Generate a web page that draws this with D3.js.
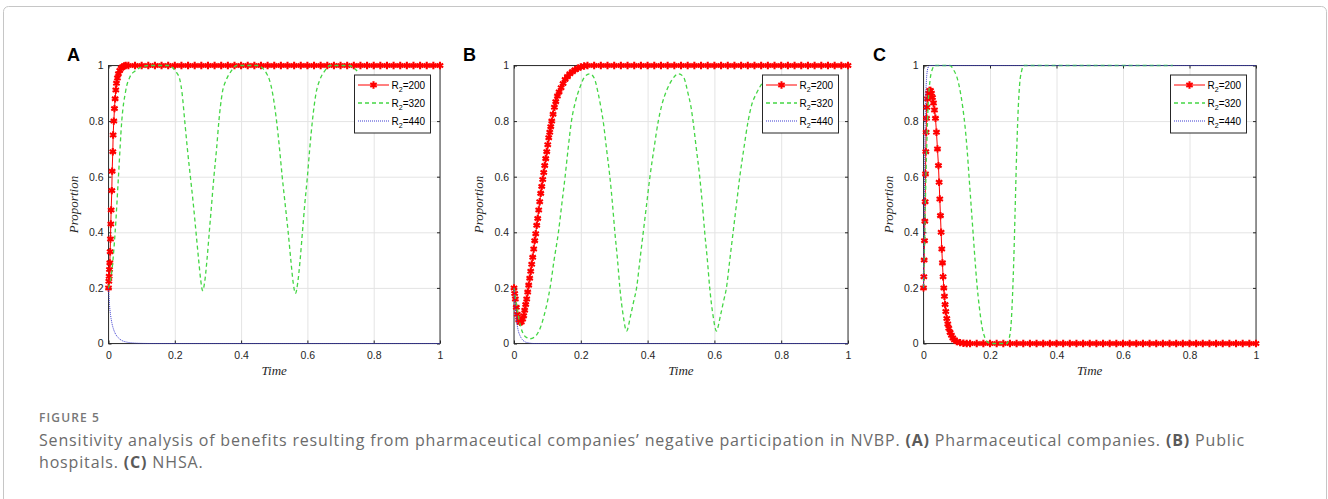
<!DOCTYPE html>
<html>
<head>
<meta charset="utf-8">
<script src="https://cdn.jsdelivr.net/npm/d3@7"></script>
<style>
  body { margin: 0; background: #fff; }
  svg { display: block; }
</style>
</head>
<body>
<div class="graphic"></div>
<script>
/* Figure 5: three panels, proportion vs time for R2 = 200, 320, 440 */

// [time, proportion] pairs
var redA = [[0,0.2],[0.001,0.224],[0.002,0.242],[0.003,0.266],[0.004,0.29],[0.005,0.33],[0.006,0.376],
    [0.007,0.43],[0.008,0.48],[0.01,0.55],[0.011,0.62],[0.013,0.69],[0.014,0.75],[0.016,0.8],[0.018,0.845],
    [0.02,0.88],[0.022,0.912],[0.024,0.936],[0.027,0.955],[0.03,0.97],[0.034,0.982],[0.038,0.99],
    [0.042,0.995],[0.047,0.998],[0.052,1],[0.06,1],[0.08,1],[0.1,1],[0.12,1],[0.14,1],[0.16,1],[0.18,1],
    [0.2,1],[0.22,1],[0.24,1],[0.26,1],[0.28,1],[0.3,1],[0.32,1],[0.34,1],[0.36,1],[0.38,1],[0.4,1],
    [0.42,1],[0.44,1],[0.46,1],[0.48,1],[0.5,1],[0.52,1],[0.54,1],[0.56,1],[0.58,1],[0.6,1],[0.62,1],
    [0.64,1],[0.66,1],[0.68,1],[0.7,1],[0.72,1],[0.74,1],[0.76,1],[0.78,1],[0.8,1],[0.82,1],[0.84,1],
    [0.86,1],[0.88,1],[0.9,1],[0.92,1],[0.94,1],[0.96,1],[0.98,1],[1,1]]
var greenA = [[0,0.2],[0.01,0.26],[0.02,0.4],[0.03,0.6],[0.04,0.8],[0.052,0.91],[0.065,0.96],[0.08,0.98],
    [0.1,0.995],[0.12,1],[0.18,1],[0.195,0.99],[0.205,0.975],[0.215,0.95],[0.222,0.9],[0.23,0.8],[0.238,0.7],
    [0.247,0.6],[0.256,0.5],[0.264,0.4],[0.272,0.3],[0.278,0.23],[0.284,0.19],[0.29,0.22],[0.297,0.3],
    [0.304,0.4],[0.311,0.5],[0.318,0.6],[0.326,0.7],[0.333,0.8],[0.343,0.9],[0.356,0.95],[0.37,0.98],
    [0.386,1],[0.45,1],[0.465,0.99],[0.475,0.975],[0.485,0.95],[0.495,0.9],[0.507,0.8],[0.516,0.7],
    [0.524,0.6],[0.533,0.5],[0.542,0.4],[0.55,0.3],[0.557,0.22],[0.564,0.18],[0.571,0.22],[0.578,0.3],
    [0.585,0.4],[0.592,0.5],[0.6,0.6],[0.607,0.7],[0.615,0.8],[0.626,0.9],[0.638,0.95],[0.652,0.98],
    [0.668,1],[0.725,1],[0.75,0.98]]
var blueA = [[0,0.2],[0.003,0.14],[0.006,0.105],[0.01,0.075],[0.015,0.052],[0.02,0.037],[0.03,0.02],
    [0.04,0.011],[0.055,0.005],[0.075,0.002],[0.1,0.0005],[0.13,0],[1,0]]

var redB = [[0,0.2],[0.002,0.18],[0.004,0.16],[0.007,0.13],[0.01,0.105],[0.014,0.085],[0.018,0.076],
    [0.022,0.077],[0.026,0.088],[0.029,0.1],[0.032,0.12],[0.035,0.14],[0.038,0.16],[0.041,0.185],
    [0.044,0.21],[0.047,0.235],[0.05,0.26],[0.053,0.285],[0.056,0.31],[0.059,0.34],[0.062,0.37],
    [0.065,0.395],[0.068,0.425],[0.071,0.45],[0.074,0.48],[0.077,0.51],[0.08,0.54],[0.083,0.565],
    [0.086,0.59],[0.089,0.615],[0.092,0.64],[0.095,0.665],[0.098,0.69],[0.101,0.715],[0.104,0.74],
    [0.107,0.76],[0.11,0.78],[0.113,0.8],[0.117,0.825],[0.121,0.85],[0.125,0.87],[0.13,0.89],[0.135,0.905],
    [0.141,0.92],[0.147,0.935],[0.153,0.95],[0.16,0.96],[0.167,0.97],[0.175,0.978],[0.183,0.985],
    [0.191,0.99],[0.2,0.995],[0.21,0.998],[0.22,1],[0.24,1],[0.26,1],[0.28,1],[0.3,1],[0.32,1],[0.34,1],
    [0.36,1],[0.38,1],[0.4,1],[0.42,1],[0.44,1],[0.46,1],[0.48,1],[0.5,1],[0.52,1],[0.54,1],[0.56,1],
    [0.58,1],[0.6,1],[0.62,1],[0.64,1],[0.66,1],[0.68,1],[0.7,1],[0.72,1],[0.74,1],[0.76,1],[0.78,1],
    [0.8,1],[0.82,1],[0.84,1],[0.86,1],[0.88,1],[0.9,1],[0.92,1],[0.94,1],[0.96,1],[0.98,1],[1,1]]
var greenB = [[0,0.2],[0.01,0.12],[0.02,0.06],[0.03,0.03],[0.04,0.02],[0.048,0.017],[0.06,0.022],
    [0.07,0.035],[0.08,0.06],[0.09,0.1],[0.1,0.15],[0.108,0.2],[0.12,0.3],[0.133,0.4],[0.143,0.5],
    [0.153,0.6],[0.162,0.7],[0.172,0.8],[0.184,0.87],[0.197,0.92],[0.212,0.96],[0.227,0.97],[0.24,0.955],
    [0.252,0.9],[0.26,0.85],[0.267,0.8],[0.277,0.7],[0.287,0.6],[0.295,0.5],[0.302,0.4],[0.31,0.3],
    [0.317,0.2],[0.327,0.1],[0.337,0.045],[0.349,0.1],[0.358,0.15],[0.367,0.2],[0.377,0.3],[0.387,0.4],
    [0.397,0.5],[0.407,0.6],[0.419,0.7],[0.432,0.8],[0.443,0.86],[0.457,0.91],[0.474,0.95],[0.492,0.97],
    [0.507,0.96],[0.521,0.9],[0.53,0.85],[0.536,0.8],[0.546,0.7],[0.556,0.6],[0.564,0.5],[0.571,0.4],
    [0.579,0.3],[0.586,0.2],[0.596,0.1],[0.606,0.045],[0.618,0.1],[0.627,0.15],[0.636,0.2],[0.646,0.3],
    [0.656,0.4],[0.666,0.5],[0.676,0.6],[0.688,0.7],[0.701,0.8],[0.712,0.86],[0.726,0.9],[0.745,0.94]]
var blueB = [[0,0.2],[0.003,0.14],[0.006,0.1],[0.009,0.07],[0.013,0.045],[0.018,0.028],[0.025,0.014],
    [0.033,0.006],[0.045,0.002],[0.06,0],[1,0]]

var redC = [[0,0.2],[0.001,0.24],[0.002,0.3],[0.003,0.37],[0.004,0.44],[0.005,0.51],[0.006,0.61],
    [0.007,0.69],[0.008,0.76],[0.009,0.81],[0.01,0.85],[0.012,0.88],[0.015,0.9],[0.018,0.91],[0.021,0.91],
    [0.024,0.9],[0.027,0.885],[0.03,0.865],[0.033,0.84],[0.036,0.81],[0.039,0.76],[0.042,0.7],[0.045,0.64],
    [0.047,0.58],[0.049,0.52],[0.051,0.46],[0.053,0.4],[0.055,0.34],[0.057,0.29],[0.059,0.24],[0.061,0.2],
    [0.063,0.17],[0.065,0.14],[0.067,0.115],[0.07,0.09],[0.073,0.07],[0.076,0.055],[0.08,0.04],
    [0.084,0.03],[0.088,0.02],[0.093,0.013],[0.1,0.007],[0.11,0.003],[0.12,0.001],[0.13,0],[0.14,0],
    [0.16,0],[0.18,0],[0.2,0],[0.22,0],[0.24,0],[0.26,0],[0.28,0],[0.3,0],[0.32,0],[0.34,0],[0.36,0],
    [0.38,0],[0.4,0],[0.42,0],[0.44,0],[0.46,0],[0.48,0],[0.5,0],[0.52,0],[0.54,0],[0.56,0],[0.58,0],
    [0.6,0],[0.62,0],[0.64,0],[0.66,0],[0.68,0],[0.7,0],[0.72,0],[0.74,0],[0.76,0],[0.78,0],[0.8,0],
    [0.82,0],[0.84,0],[0.86,0],[0.88,0],[0.9,0],[0.92,0],[0.94,0],[0.96,0],[0.98,0],[1,0]]
var greenC = [[0,0.2],[0.003,0.35],[0.006,0.53],[0.01,0.72],[0.014,0.86],[0.02,0.95],[0.026,0.985],
    [0.035,1],[0.08,1],[0.09,0.985],[0.1,0.96],[0.11,0.91],[0.118,0.85],[0.125,0.78],[0.131,0.7],
    [0.137,0.6],[0.143,0.5],[0.149,0.4],[0.155,0.3],[0.161,0.21],[0.168,0.13],[0.176,0.06],[0.185,0.02],
    [0.195,0.003],[0.205,0],[0.25,0],[0.258,0.02],[0.264,0.08],[0.268,0.18],[0.272,0.32],[0.276,0.5],
    [0.28,0.68],[0.284,0.82],[0.289,0.93],[0.295,0.98],[0.302,1],[0.75,1]]
var blueC = [[0,0.2],[0.002,0.45],[0.004,0.7],[0.006,0.85],[0.009,0.95],[0.013,0.99],[0.018,1],[1,1]]

var seriesLabels = ['200', '320', '440']
var panelLetters = ['A', 'B', 'C']
var xTicks = [0, 0.2, 0.4, 0.6, 0.8, 1]
var yTicks = [0, 0.2, 0.4, 0.6, 0.8, 1]
var xLabel = 'Time'
var yLabel = 'Proportion'
var figureTitle = 'FIGURE 5'
var captionLine1 = [
    ['Sensitivity analysis of benefits resulting from pharmaceutical companies\u2019 negative participation in NVBP. ', false],
    ['(A)', true], [' Pharmaceutical companies. ', false], ['(B)', true], [' Public', false]]
var captionLine2 = [['hospitals. ', false], ['(C)', true], [' NHSA.', false]]

var panelData = [[redA, greenA, blueA], [redB, greenB, blueB], [redC, greenC, blueC]]

// layout (pixels)
var W = 1328, H = 499
var plotTop = 65.5, plotBottom = 343.5
var plotX = [[108.5, 440], [514, 848], [923.5, 1256]]
var letterX = [67, 463, 873]
var tickFont = 'Liberation Sans, Arial, sans-serif'
var mathFont = 'Liberation Serif, Times New Roman, serif'
var capFont = 'Open Sans, Lato, sans-serif'
var colors = ['#ff0000', '#44d644', '#3a3ad0']

var svg = d3.select('.graphic').append('svg')
    .attr('width', W)
    .attr('height', H)

svg.append('rect')
    .attr('x', 3.5).attr('y', 6.5)
    .attr('width', 1323).attr('height', 530)
    .attr('rx', 5)
    .attr('fill', '#fff')
    .attr('stroke', '#c6c6c6')

function styleAxis(sel) {
    sel.attr('font-family', tickFont).attr('font-size', 10.5).attr('color', '#262626')
    sel.select('.domain').remove()
}

function drawPanel(i) {
    var x = d3.scaleLinear().domain([0, 1]).range(plotX[i])
    var y = d3.scaleLinear().domain([0, 1]).range([plotBottom, plotTop])
    var g = svg.append('g')
    var h = plotBottom - plotTop

    // grid
    g.append('g')
        .attr('transform', 'translate(0,' + plotBottom + ')')
        .call(d3.axisBottom(x).tickValues(xTicks).tickSize(-h).tickFormat(''))
        .call(function(s) { s.select('.domain').remove(); s.selectAll('line').attr('stroke', '#e4e4e4') })
    g.append('g')
        .attr('transform', 'translate(' + plotX[i][0] + ',0)')
        .call(d3.axisLeft(y).tickValues(yTicks).tickSize(-(plotX[i][1] - plotX[i][0])).tickFormat(''))
        .call(function(s) { s.select('.domain').remove(); s.selectAll('line').attr('stroke', '#e4e4e4') })

    // box + ticks on every side (drawn under the data, like matlab)
    g.append('rect')
        .attr('x', plotX[i][0]).attr('y', plotTop)
        .attr('width', plotX[i][1] - plotX[i][0]).attr('height', h)
        .attr('fill', 'none').attr('stroke', '#333')
    g.append('g')
        .attr('transform', 'translate(0,' + plotBottom + ')')
        .call(d3.axisBottom(x).tickValues(xTicks).tickSizeInner(-3).tickSizeOuter(0).tickPadding(8)
            .tickFormat(d3.format('~g')))
        .call(styleAxis)
    g.append('g')
        .attr('transform', 'translate(0,' + plotTop + ')')
        .call(d3.axisTop(x).tickValues(xTicks).tickSizeInner(-3).tickSizeOuter(0).tickFormat(''))
        .call(styleAxis)
    g.append('g')
        .attr('transform', 'translate(' + plotX[i][0] + ',0)')
        .call(d3.axisLeft(y).tickValues(yTicks).tickSizeInner(-3).tickSizeOuter(0).tickPadding(5)
            .tickFormat(d3.format('~g')))
        .call(styleAxis)
    g.append('g')
        .attr('transform', 'translate(' + plotX[i][1] + ',0)')
        .call(d3.axisRight(y).tickValues(yTicks).tickSizeInner(-3).tickSizeOuter(0).tickFormat(''))
        .call(styleAxis)

    // series: red with star markers, green dashed, blue dotted
    var data = panelData[i]
    var straight = d3.line().x(function(d) { return x(d[0]) }).y(function(d) { return y(d[1]) })
    var smooth = d3.line().curve(d3.curveMonotoneX).x(function(d) { return x(d[0]) }).y(function(d) { return y(d[1]) })

    g.append('path').datum(data[0])
        .attr('d', straight)
        .attr('fill', 'none').attr('stroke', colors[0]).attr('stroke-width', 1)
    g.selectAll('.mk').data(data[0]).join('path')
        .attr('class', 'mk')
        .attr('d', d3.symbol(d3.symbolAsterisk, 38))
        .attr('transform', function(d) { return 'translate(' + x(d[0]) + ',' + y(d[1]) + ')' })
        .attr('fill', 'none').attr('stroke', colors[0]).attr('stroke-width', 2.1)
    g.append('path').datum(data[1])
        .attr('d', smooth)
        .attr('fill', 'none').attr('stroke', colors[1]).attr('stroke-width', 1.3)
        .attr('stroke-dasharray', '4,3')
    g.append('path').datum(data[2])
        .attr('d', smooth)
        .attr('fill', 'none').attr('stroke', colors[2]).attr('stroke-width', 1)
        .attr('stroke-dasharray', '1,1')

    // axis titles
    g.append('text')
        .attr('x', (plotX[i][0] + plotX[i][1]) / 2).attr('y', 375)
        .attr('text-anchor', 'middle')
        .attr('font-family', mathFont).attr('font-style', 'italic').attr('font-size', 13)
        .attr('fill', '#262626')
        .text(xLabel)
    g.append('text')
        .attr('transform', 'translate(' + (plotX[i][0] - 31) + ',' + ((plotTop + plotBottom) / 2) + ') rotate(-90)')
        .attr('text-anchor', 'middle')
        .attr('font-family', mathFont).attr('font-style', 'italic').attr('font-size', 13)
        .attr('fill', '#262626')
        .text(yLabel)

    // panel letter
    svg.append('text')
        .attr('x', letterX[i]).attr('y', 61)
        .attr('font-family', tickFont).attr('font-weight', 'bold').attr('font-size', 18)
        .attr('fill', '#000')
        .text(panelLetters[i])

    // legend
    var lw = 76, lh = 58
    var lg = g.append('g')
        .attr('transform', 'translate(' + (plotX[i][1] - 9.5 - lw) + ',' + (plotTop + 9.5) + ')')
    lg.append('rect')
        .attr('width', lw).attr('height', lh)
        .attr('fill', '#fff').attr('stroke', '#262626')
    var rowY = [10, 28, 46]
    var widths = [1, 1.3, 1]
    var dashes = [null, '4,3', '1,1']
    seriesLabels.forEach(function(lab, k) {
        lg.append('line')
            .attr('x1', 3.5).attr('x2', 34.5)
            .attr('y1', rowY[k]).attr('y2', rowY[k])
            .attr('stroke', colors[k]).attr('stroke-width', widths[k])
            .attr('stroke-dasharray', dashes[k])
        if (k === 0) {
            lg.append('path')
                .attr('d', d3.symbol(d3.symbolAsterisk, 38))
                .attr('transform', 'translate(19,' + rowY[k] + ')')
                .attr('fill', 'none').attr('stroke', colors[0]).attr('stroke-width', 2.1)
        }
        var t = lg.append('text')
            .attr('x', 37).attr('y', rowY[k] + 3.5)
            .attr('font-family', tickFont).attr('font-size', 10).attr('fill', '#000')
        t.append('tspan').text('R')
        t.append('tspan').attr('font-size', 7).attr('dy', 3).text('2')
        t.append('tspan').attr('dy', -3).text('=' + lab)
    })
}

d3.range(3).forEach(drawPanel)

// caption: fixed font size, a little letter spacing to reach the reference width
function spreadTo(sel, target) {
    var len = sel.node().getComputedTextLength()
    var n = sel.text().length
    var ls = Math.max(0, (target - len) / n)
    sel.attr('letter-spacing', ls)
    return ls
}

var title = svg.append('text')
    .attr('x', 39).attr('y', 422)
    .attr('font-family', capFont).attr('font-weight', 600).attr('font-size', 12)
    .attr('fill', '#777')
    .text(figureTitle)
spreadTo(title, 61)

function captionLine(parts, yPos) {
    var t = svg.append('text')
        .attr('x', 39).attr('y', yPos)
        .attr('font-family', capFont).attr('font-size', 16)
        .attr('fill', '#6b6b6b')
    parts.forEach(function(p) {
        t.append('tspan')
            .attr('font-weight', p[1] ? 700 : 400)
            .attr('fill', p[1] ? '#5a5a5a' : '#6b6b6b')
            .text(p[0])
    })
    return t
}
var line1 = captionLine(captionLine1, 446)
var ls = spreadTo(line1, 1206)
captionLine(captionLine2, 468).attr('letter-spacing', ls)
</script>
</body>
</html>
